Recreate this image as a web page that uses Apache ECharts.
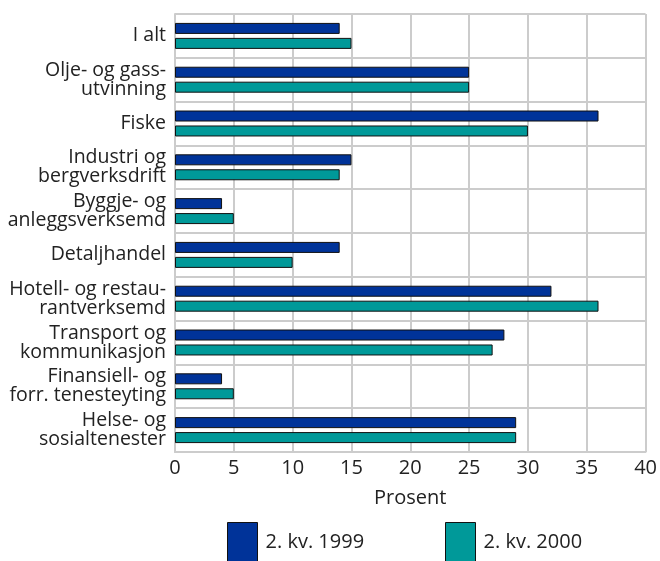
<!DOCTYPE html>
<html><head><meta charset="utf-8">
<script src="https://cdn.jsdelivr.net/npm/echarts@6/dist/echarts.min.js"></script>
<style>html,body{margin:0;padding:0;background:#fff}#c{width:660px;height:561px}</style>
</head><body><div id="c"></div>
<script>
const categories = ["I alt","Olje- og gass-\nutvinning","Fiske","Industri og\nbergverksdrift","Byggje- og\nanleggsverksemd","Detaljhandel","Hotell- og restau-\nrantverksemd","Transport og\nkommunikasjon","Finansiell- og\nforr. tenesteyting","Helse- og\nsosialtenester"];
const series1999 = [14,25,36,15,4,14,32,28,4,29];
const series2000 = [15,25,30,14,5,10,36,27,5,29];
const xTicks = [0,5,10,15,20,25,30,35,40];
const seriesNames = ["2. kv. 1999","2. kv. 2000"];
const FONT = "Open Sans";
const FS = 20;
const chart = echarts.init(document.getElementById('c'), null, {renderer:'canvas'});
const legendBase = {top:522, itemWidth:30, itemHeight:40, padding:0, icon:'rect',
  textStyle:{fontSize:FS,color:'#222',fontFamily:FONT,padding:[0,0,8,3]},
  itemStyle:{borderColor:'#111',borderWidth:1}};
chart.setOption({
  animation:false,
  textStyle:{fontFamily:FONT},
  grid:{left:175,right:12,top:14,bottom:109,containLabel:false},
  legend:[
    Object.assign({}, legendBase, {data:[seriesNames[0]], left:227}),
    Object.assign({}, legendBase, {data:[seriesNames[1]], left:445})
  ],
  xAxis:{
    type:'value', min:xTicks[0], max:xTicks[xTicks.length-1], interval:5,
    name:'Prosent', nameLocation:'middle', nameGap:36,
    nameTextStyle:{fontSize:FS,color:'#222',fontFamily:FONT},
    axisLine:{show:true,lineStyle:{color:'#cccccc',width:2}},
    axisTick:{show:false},
    axisLabel:{fontSize:FS,color:'#222',margin:6,fontFamily:FONT},
    splitLine:{show:true,lineStyle:{color:'#cccccc',width:2}}
  },
  yAxis:{
    type:'category', data:categories, inverse:true,
    axisLine:{show:true,lineStyle:{color:'#cccccc',width:2}},
    axisTick:{show:false},
    axisLabel:{fontSize:19.5,color:'#222',margin:9,lineHeight:19,fontFamily:FONT},
    splitLine:{show:true,lineStyle:{color:'#cccccc',width:2}}
  },
  series:[
    {name:seriesNames[0],type:'bar',data:series1999,barWidth:11,barGap:'36%',
     itemStyle:{color:'#003399',borderColor:'#111',borderWidth:1}},
    {name:seriesNames[1],type:'bar',data:series2000,barWidth:11,barGap:'36%',
     itemStyle:{color:'#009999',borderColor:'#111',borderWidth:1}}
  ]
});
</script></body></html>
